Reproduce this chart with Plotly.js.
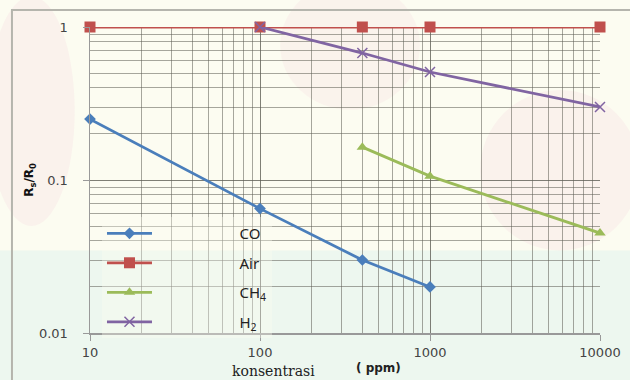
<!DOCTYPE html>
<html>
<head>
<meta charset="utf-8">
<script src="https://cdn.plot.ly/plotly-3.0.1.min.js"></script>
<style>html,body{margin:0;padding:0;background:#fcfcf1;}#chart{width:630px;height:380px;}</style>
</head>
<body>
<div id="chart"></div>
<script>
// Data
const coX = [10, 100, 400, 1000];
const coY = [0.25, 0.065, 0.030, 0.020];
const airX = [10, 100, 400, 1000, 10000];
const airY = [1, 1, 1, 1, 1];
const ch4X = [400, 1000, 10000];
const ch4Y = [0.164, 0.106, 0.045];
const h2X = [100, 400, 1000, 10000];
const h2Y = [1, 0.676, 0.508, 0.30];
const seriesNames = ['CO', 'Air', 'CH<sub>4</sub>', 'H<sub>2</sub>'];
const xTickVals = [10, 100, 1000, 10000];
const xTickText = ['10', '100', '1000', '10000'];
const yTickVals = [0.01, 0.1, 1];
const yTickText = ['0.01', '0.1', '1'];

const colors = ['#4a7ebb', '#c0504d', '#9bbb59', '#8064a2'];
const GAP = '\u2003\u2003\u2003\u2003\u2003\u2002';

function tr(x, y, i, sym, size) {
  return {
    x: x, y: y, name: GAP + seriesNames[i], type: 'scatter', mode: 'lines+markers',
    legendgroup: 'g' + i, cliponaxis: false,
    line: {color: colors[i], width: 2.8},
    marker: {symbol: sym, size: size, color: colors[i], line: {color: colors[i], width: sym === 'x-thin' ? 1.5 : 0}}
  };
}

const data = [
  tr(coX, coY, 0, 'diamond', 9),
  tr(airX, airY, 1, 'square', 11),
  tr(ch4X, ch4Y, 2, 'triangle-up', 10),
  tr(h2X, h2Y, 3, 'x-thin', 10)
];

const gridCol = 'rgba(95,95,85,0.55)';
const tickFont = {family: 'DejaVu Sans', size: 13, color: '#444'};

const layout = {
  width: 630, height: 380,
  margin: {l: 90, r: 30, t: 27, b: 47},
  paper_bgcolor: '#fcfcf1',
  plot_bgcolor: 'rgba(0,0,0,0)',
  showlegend: true,
  legend: {
    x: 0.0235, y: 0.379, xanchor: 'left', yanchor: 'top',
    bgcolor: 'rgba(252,252,241,0.35)', borderwidth: 0,
    itemwidth: 45, traceorder: 'grouped', tracegroupgap: 7,
    font: {family: 'Noto Sans', size: 15, color: '#222'}
  },
  xaxis: {
    type: 'log', range: [1, 4],
    tickvals: xTickVals, ticktext: xTickText,
    ticks: 'outside', ticklen: 6, tickcolor: '#999', ticklabelstandoff: 1,
    showline: true, linecolor: '#999', linewidth: 1.5,
    showgrid: true, gridcolor: gridCol, gridwidth: 1,
    minor: {dtick: 'D1', showgrid: true, gridcolor: gridCol, gridwidth: 1, ticks: ''},
    tickfont: tickFont, zeroline: false
  },
  yaxis: {
    type: 'log', range: [-2, 0],
    tickvals: yTickVals, ticktext: yTickText,
    ticks: 'outside', ticklen: 6, tickcolor: '#999', ticklabelstandoff: 12,
    showline: true, linecolor: '#999', linewidth: 1.5,
    showgrid: true, gridcolor: gridCol, gridwidth: 1,
    minor: {dtick: 'D1', showgrid: true, gridcolor: gridCol, gridwidth: 1, ticks: ''},
    tickfont: tickFont, zeroline: false,
    title: {text: 'R<sub>s</sub>/R<sub>0</sub>', font: {family: 'DejaVu Sans', size: 12, color: '#111', weight: 'bold'}, standoff: 2}
  },
  shapes: [
    // faint watermark-like background tints
    {type: 'rect', xref: 'paper', yref: 'paper', x0: -0.2, x1: 1.1, y0: -0.2, y1: 0.27,
     line: {width: 0}, fillcolor: 'rgba(222,241,237,0.5)', layer: 'below'},
    {type: 'circle', xref: 'paper', yref: 'paper', x0: 0.765, x1: 1.078, y0: 0.27, y1: 0.794,
     line: {width: 0}, fillcolor: 'rgba(246,205,218,0.2)', layer: 'below'},
    {type: 'circle', xref: 'paper', yref: 'paper', x0: -0.2, x1: -0.03, y0: 0.35, y1: 1.1,
     line: {width: 0}, fillcolor: 'rgba(246,205,218,0.2)', layer: 'below'},
    {type: 'circle', xref: 'paper', yref: 'paper', x0: 0.373, x1: 0.647, y0: 0.73, y1: 1.15,
     line: {width: 0}, fillcolor: 'rgba(246,205,218,0.18)', layer: 'below'},
    {type: 'rect', xref: 'paper', yref: 'paper', x0: -0.153, x1: 1.07, y0: -0.2, y1: 1.0556,
     line: {color: '#b5b5ad', width: 2}, fillcolor: 'rgba(0,0,0,0)', layer: 'below'}
  ],
  annotations: [
    {text: 'konsentrasi', xref: 'paper', yref: 'paper', x: (273 - 90) / 510, y: -0.123, xanchor: 'center', yanchor: 'middle', showarrow: false,
     font: {family: 'DejaVu Serif', size: 14, color: '#222'}},
    {text: '( ppm)', xref: 'paper', yref: 'paper', x: (378 - 90) / 510, y: -0.113, xanchor: 'center', yanchor: 'middle', showarrow: false,
     font: {family: 'DejaVu Sans', size: 12, color: '#222', weight: 'bold'}}
  ]
};

Plotly.newPlot('chart', data, layout, {displayModeBar: false, staticPlot: true});
</script>
</body>
</html>
